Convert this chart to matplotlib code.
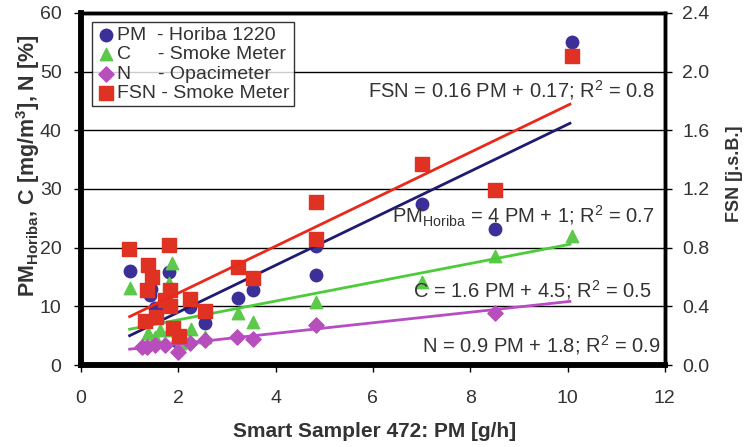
import numpy as np
import matplotlib.pyplot as plt

plt.rcParams['font.family'] = ['Liberation Sans', 'DejaVu Sans']
plt.rcParams['mathtext.fontset'] = 'custom'
plt.rcParams['mathtext.rm'] = 'Liberation Sans'
plt.rcParams['mathtext.bf'] = 'Liberation Sans:bold'

# PM - Horiba 1220 (mg/m3)
pm_x = [1.0, 1.8, 1.42, 1.43, 1.54, 1.52, 2.24, 2.55, 2.0, 3.23, 3.54, 4.84, 4.84, 7.0, 8.51, 10.09]
pm_y = [16.1, 15.9, 11.9, 13.0, 9.4, 9.7, 9.9, 7.1, 4.0, 11.4, 12.8, 20.2, 15.3, 27.5, 23.1, 55.0]

# C - Smoke Meter (mg/m3)
c_x = [1.0, 1.88, 1.8, 1.38, 1.52, 1.62, 1.8, 2.03, 2.27, 2.55, 3.23, 3.54, 4.84, 7.0, 8.51, 10.09]
c_y = [13.2, 17.4, 13.9, 5.4, 4.8, 6.0, 6.0, 3.7, 6.2, 4.7, 8.8, 7.4, 10.8, 14.2, 18.5, 22.0]

# N - Opacimeter (%)
n_x = [1.25, 1.35, 1.52, 1.73, 2.0, 2.24, 2.55, 3.2, 3.54, 4.84, 8.51]
n_y = [3.1, 3.1, 3.4, 3.4, 2.3, 3.7, 4.3, 4.8, 4.4, 6.9, 8.8]

# FSN - Smoke Meter (j.s.B.)
fsn_x = [0.99, 1.8, 1.38, 1.45, 1.35, 1.82, 1.73, 1.82, 2.24, 2.55, 1.32, 1.54, 1.9, 2.02,
         3.23, 3.54, 4.84, 4.84, 7.0, 8.51, 10.09]
fsn_y = [0.79, 0.82, 0.68, 0.60, 0.51, 0.51, 0.44, 0.40, 0.45, 0.37, 0.30, 0.33, 0.25, 0.20,
         0.67, 0.59, 1.11, 0.86, 1.37, 1.19, 2.11]

# trend lines: (slope, intercept) as printed on the chart
fit_pm = (4.0, 1.0)
fit_c = (1.6, 4.5)
fit_n = (0.9, 1.8)
fit_fsn = (0.16, 0.17)

col_pm = '#3b2f98'
col_c = '#5cc94a'
col_n = '#b64fba'
col_fsn = '#e03223'
txt_col = '#333333'

fig = plt.figure(figsize=(7.47, 4.47), dpi=100)
ax = fig.add_axes([0.1084, 0.1834, 0.7816, 0.7876])
ax2 = ax.twinx()

xl = np.array([1.0, 10.05])

ax.scatter(pm_x, pm_y, s=80, marker='o', color=col_pm, zorder=3, label='PM  - Horiba 1220')
ax.scatter(c_x, c_y, s=80, marker='^', color=col_c, zorder=3, label='C     - Smoke Meter')
ax.scatter(n_x, n_y, s=60, marker='D', color=col_n, zorder=3, label='N     - Opacimeter')
ax.plot(xl, fit_pm[0] * xl + fit_pm[1], color='#1f1b70', lw=2, zorder=4)
ax.plot(xl, fit_c[0] * xl + fit_c[1], color='#4ccc38', lw=2, zorder=4)
ax.plot(xl, fit_n[0] * xl + fit_n[1], color='#b84cc2', lw=2, zorder=4)

sq = ax2.scatter(fsn_x, fsn_y, s=95, marker='s', color=col_fsn, zorder=3, label='FSN - Smoke Meter')
ax2.plot(xl, fit_fsn[0] * xl + fit_fsn[1], color='#e8291c', lw=2, zorder=4)

ax.set_xlim(0, 12)
ax.set_ylim(0, 60)
ax2.set_ylim(0, 2.4)
ax.set_xticks(range(0, 13, 2))
ax.set_yticks(range(0, 61, 10))
ax2.set_yticks(np.arange(0, 2.41, 0.4))
ax2.set_yticklabels(['%.1f' % v for v in np.arange(0, 2.41, 0.4)])

ax.yaxis.grid(True, color='black', lw=1)
ax.set_axisbelow(True)

for a in (ax, ax2):
    a.tick_params(direction='out', length=5, width=1, labelsize=14, labelcolor=txt_col)
    for s in a.spines.values():
        s.set_linewidth(2.5)
    a.spines['left'].set_linewidth(4)
    a.spines['bottom'].set_linewidth(4)
ax.tick_params(axis='x', pad=13)
ax.tick_params(axis='y', pad=9)
ax2.tick_params(axis='y', pad=7.5)

ax.set_xlabel('Smart Sampler 472: PM [g/h]', fontsize=15, fontweight='bold', color=txt_col)
ax.set_ylabel('PM$_{\\mathbf{Horiba}}$, C [mg/m$^\\mathbf{3}$], N [%]', fontsize=15.5,
              fontweight='bold', color=txt_col)
ax2.set_ylabel('FSN [j.s.B.]', fontsize=13, fontweight='bold', color=txt_col)
ax.xaxis.set_label_coords(0.502, -0.19)
ax.yaxis.set_label_coords(-0.091, 0.565)
ax2.yaxis.set_label_coords(1.12, 0.543)
ax.xaxis.label.set_va('center')
ax.yaxis.label.set_va('center')
ax2.yaxis.label.set_va('center')

h1, l1 = ax.get_legend_handles_labels()
leg = ax2.legend(h1 + [sq], l1 + ['FSN - Smoke Meter'], loc='upper left',
                 bbox_to_anchor=(0.012, 0.985), fontsize=14, frameon=True, fancybox=False,
                 handletextpad=0.0, handlelength=1.1, borderpad=0.2, labelspacing=0.1,
                 borderaxespad=0.2, scatterpoints=1)
leg.get_frame().set_edgecolor('black')
leg.get_frame().set_linewidth(1)
for t in leg.get_texts():
    t.set_color(txt_col)

kw = dict(ha='right', va='center', fontsize=14.5, color=txt_col, zorder=6)
ax2.text(11.8, 46.8 / 25, 'FSN = 0.16 PM + 0.17; R$^2$ = 0.8', **kw)
ax2.text(11.8, 25.3 / 25, 'PM$_{\\mathrm{Horiba}}$ = 4 PM + 1; R$^2$ = 0.7', **kw)
ax2.text(11.72, 12.8 / 25, 'C = 1.6 PM + 4.5; R$^2$ = 0.5', **kw)
ax2.text(11.9, 3.4 / 25, 'N = 0.9 PM + 1.8; R$^2$ = 0.9', **kw)

fig.savefig('out.png', dpi=100, facecolor='white')
